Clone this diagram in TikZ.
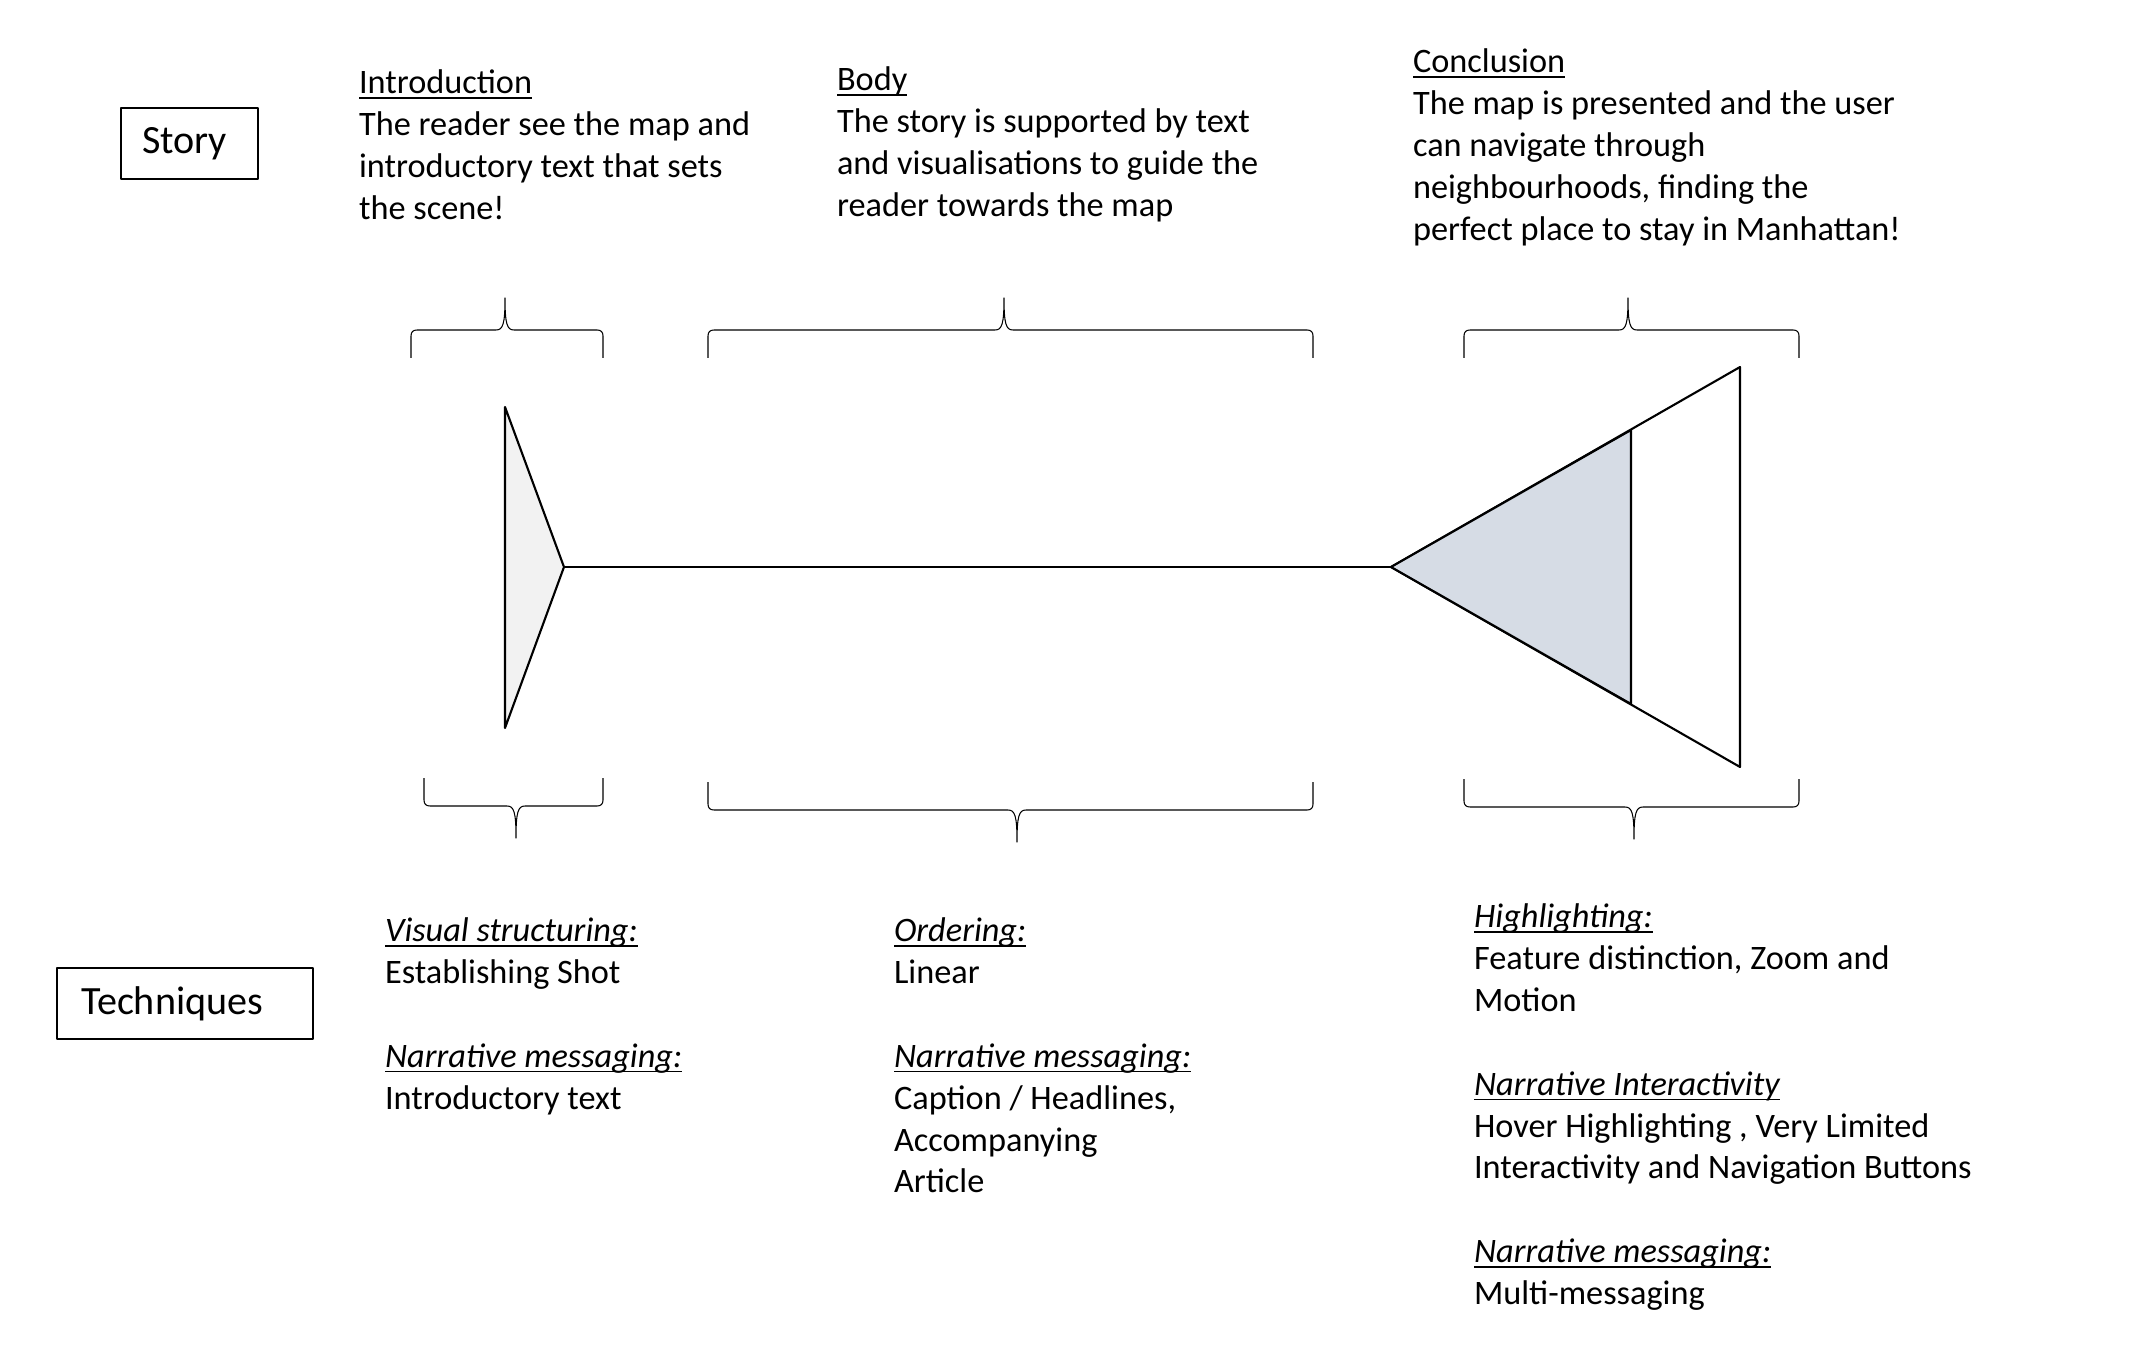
\documentclass[tikz,border=0pt]{standalone}
\usepackage{fontspec}
\setmainfont{Carlito}
\usetikzlibrary{positioning}

\definecolor{lightgrey}{HTML}{F2F2F2}
\definecolor{shade}{HTML}{D6DCE5}

\newsavebox{\hdrbox}
\newcommand{\hdr}[1]{\sbox{\hdrbox}{#1}\rlap{\rule[-1.4pt]{\wd\hdrbox}{0.45pt}}\usebox{\hdrbox}}

\begin{document}
\begin{tikzpicture}[x=0.01cm, y=-0.01cm, line width=0.6pt, line join=round,
        txt/.style={anchor=north west, align=left, inner sep=0pt, font=\fontsize{9.75pt}{11.9pt}\selectfont,
            execute at begin node=\rule{0pt}{0.3cm}},
        labelbox/.style={draw, line width=0.6pt, inner ysep=0pt, align=left, font=\fontsize{11.4pt}{13pt}\selectfont},
        bracket/.style={line width=0.3pt}]
        \useasboundingbox (0,0) rectangle (2130,1349);

        % row labels
        \node[labelbox, anchor=north west, inner xsep=0.21cm, text width=0.95cm, minimum height=0.71cm] (story) at (120,107) {Story};
        \node[labelbox, anchor=north west, inner xsep=0.24cm, text width=2.08cm, minimum height=0.71cm] (techniques) at (56,967) {Techniques};

        % story texts (first baseline 30 below the anchor)
        \node[txt] (intro) at (358,69) {\hdr{Introduction}\\The reader see the map and\\introductory text that sets\\the scene!};
        \node[txt] (body) at (836,66) {\hdr{Body}\\The story is supported by text\\and visualisations to guide the\\reader towards the map};
        \node[txt] (concl) at (1412,48) {\hdr{Conclusion}\\The map is presented and the user\\can navigate through\\neighbourhoods, finding the\\perfect place to stay in Manhattan!};

        % braces
        \foreach \l/\r/\t/\y in {411/603/505/330, 708/1313/1004/330, 1464/1799/1628/330}
            \draw[bracket] (\l,\y+28) -- (\l,\y+6) .. controls (\l,\y+2) and (\l+2,\y) .. (\l+6,\y)
                -- (\t-9,\y) .. controls (\t-2,\y) and (\t,\y-6) .. (\t,\y-32)
                .. controls (\t,\y-6) and (\t+2,\y) .. (\t+9,\y)
                -- (\r-6,\y) .. controls (\r-2,\y) and (\r,\y+2) .. (\r,\y+6) -- (\r,\y+28);
        \foreach \l/\r/\t/\y in {424/603/516/806, 708/1313/1017/810, 1464/1799/1634/807}
            \draw[bracket] (\l,\y-28) -- (\l,\y-6) .. controls (\l,\y-2) and (\l+2,\y) .. (\l+6,\y)
                -- (\t-9,\y) .. controls (\t-2,\y) and (\t,\y+6) .. (\t,\y+32)
                .. controls (\t,\y+6) and (\t+2,\y) .. (\t+9,\y)
                -- (\r-6,\y) .. controls (\r-2,\y) and (\r,\y-2) .. (\r,\y-6) -- (\r,\y-28);

        % narrative shape
        \coordinate (introtop) at (505,407);
        \coordinate (introtip) at (564,567);
        \coordinate (introbot) at (505,728);
        \coordinate (concltip) at (1391,567);
        \coordinate (concltop) at (1740,367);
        \coordinate (conclbot) at (1740,767);
        \coordinate (shadetop) at (1631,430);
        \coordinate (shadebot) at (1631,704);
        \filldraw[fill=lightgrey] (introtop) -- (introtip) -- (introbot) -- cycle;
        \draw (introtip) -- (concltip);
        \filldraw[fill=white] (concltip) -- (concltop) -- (conclbot) -- cycle;
        \filldraw[fill=shade] (concltip) -- (shadetop) -- (shadebot) -- cycle;

        % technique texts
        \node[txt] (introtech) at (384,917) {\hdr{\textit{Visual structuring:}}\\Establishing Shot\\[11.9pt]\hdr{\textit{Narrative messaging:}}\\Introductory text};
        \node[txt] (bodytech) at (893,917) {\hdr{\textit{Ordering:}}\\Linear\\[11.9pt]\hdr{\textit{Narrative messaging:}}\\Caption / Headlines,\\Accompanying\\Article};
        \node[txt] (concltech) at (1473,903) {\hdr{\textit{Highlighting:}}\\Feature distinction, Zoom and\\Motion\\[11.9pt]\hdr{\textit{Narrative Interactivity}}\\Hover Highlighting , Very Limited\\Interactivity and Navigation Buttons\\[11.9pt]\hdr{\textit{Narrative messaging:}}\\Multi-messaging};
\end{tikzpicture}
\end{document}
